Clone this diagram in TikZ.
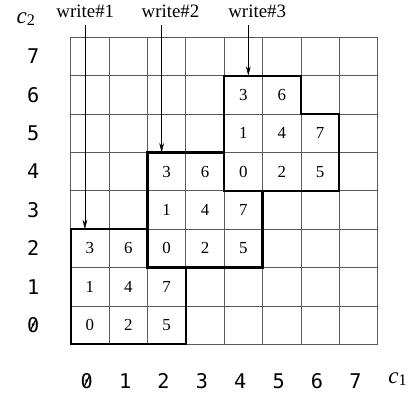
\documentclass[tikz,border=0pt]{standalone}
\usepackage{fontspec}
\setmainfont{Liberation Serif}
\newfontfamily\axisfont{DejaVu Sans Mono}
\usepackage{tikz}
\usetikzlibrary{arrows.meta,positioning,calc}
\definecolor{gridgray}{RGB}{90, 90, 90}

\newcommand{\axisvar}[2]{{\fontsize{17}{18}\selectfont\itshape #1}\raisebox{-0.35ex}{\fontsize{12}{13}\selectfont #2}}

\tikzset{
  cellnum/.style={font=\fontsize{12.5}{13}\selectfont},
  axisnum/.style={font=\axisfont\fontsize{15}{16}\selectfont},
  writelabel/.style={font=\fontsize{14}{15}\selectfont},
  blockline/.style={line width=1.6pt,black},
  zeroslash/.style={line width=0.9pt,black},
  writearrow/.style={-{Stealth[length=7pt,width=3.5pt]},thin}
}

\begin{document}
\begin{tikzpicture}[x=1cm,y=1cm]
    \useasboundingbox (-1.843,-1.426) rectangle (8.817,8.973);

    % Thin grid
    \draw[gridgray,line width=0.5pt] (0,0) grid (8,8);

    % Axis labels
    \foreach \i in {0,...,7} {
        \node[axisnum] (x\i) at (\i+0.42,-0.96) {\i};
        \node[axisnum] (y\i) at (-0.98,\i+0.5) {\i};
    }
    % slashed zeros
    \draw[zeroslash] ($(x0.center)+(-0.075,-0.15)$) -- ($(x0.center)+(0.075,0.15)$);
    \draw[zeroslash] ($(y0.center)+(-0.075,-0.15)$) -- ($(y0.center)+(0.075,0.15)$);
    \node (c1) at (8.52,-0.90) {\axisvar{c}{1}};
    \node (c2) at (-1.17,8.47) {\axisvar{c}{2}};

    % Three blocks, each shifted by (2,2)
    \foreach \b in {0,1,2} {
        \begin{scope}[shift={(2*\b,2*\b)}]
            \draw[blockline] (0,0) -- (3,0) -- (3,2) -- (2,2) -- (2,3) -- (0,3) -- cycle;
            \node[cellnum] (b\b n0) at (0.5,0.5) {0};
            \node[cellnum] (b\b n2) at (1.5,0.5) {2};
            \node[cellnum] (b\b n5) at (2.5,0.5) {5};
            \node[cellnum] (b\b n1) at (0.5,1.5) {1};
            \node[cellnum] (b\b n4) at (1.5,1.5) {4};
            \node[cellnum] (b\b n7) at (2.5,1.5) {7};
            \node[cellnum] (b\b n3) at (0.5,2.5) {3};
            \node[cellnum] (b\b n6) at (1.5,2.5) {6};
        \end{scope}
    }

    % Write labels and arrows
    \node[writelabel] (w1) at (0.38,8.68) {write\#1};
    \node[writelabel] (w2) at (2.6,8.68) {write\#2};
    \node[writelabel] (w3) at (4.86,8.68) {write\#3};
    \coordinate (a1) at (0.37,3);
    \coordinate (a2) at (2.37,5);
    \coordinate (a3) at (4.63,7);
    \draw[writearrow] ([yshift=-2pt]w1.south -| a1) -- (a1);
    \draw[writearrow] ([yshift=-2pt]w2.south -| a2) -- (a2);
    \draw[writearrow] ([yshift=-2pt]w3.south -| a3) -- (a3);
\end{tikzpicture}
\end{document}
